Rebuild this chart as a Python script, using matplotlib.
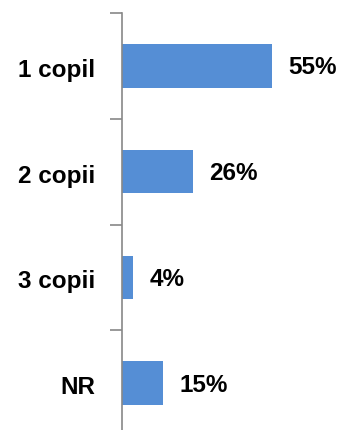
import matplotlib.pyplot as plt
from matplotlib.ticker import FixedLocator, NullLocator

categories = ['1 copil', '2 copii', '3 copii', 'NR']
values = [55, 26, 4, 15]

bar_color = '#558ED5'
plt.rcParams['font.family'] = ['Liberation Sans', 'DejaVu Sans']

fig = plt.figure(figsize=(3.42, 4.30), dpi=100)
ax = fig.add_axes([122 / 342, -6 / 430, 220 / 342, 423 / 430])

pos = list(range(len(categories)))
ax.barh(pos, values, height=0.41, color=bar_color)
ax.set_ylim(len(categories) - 0.5, -0.5)
ax.set_xlim(0, 80.6)

for p, v in zip(pos, values):
    ax.text(v + 6.0, p + 0.02, f'{v}%', va='center', ha='left',
            fontsize=17.5, fontweight='bold')

ax.set_yticks([p + 0.02 for p in pos])
ax.set_yticklabels(categories, fontsize=17.5, fontweight='bold')
ax.tick_params(axis='y', which='major', length=0, pad=19)
ax.yaxis.set_minor_locator(FixedLocator([-0.5, 0.5, 1.5, 2.5, 3.5]))
ax.tick_params(axis='y', which='minor', length=9, width=1.2, color='#888888')
ax.xaxis.set_major_locator(NullLocator())

for s in ['top', 'right', 'bottom']:
    ax.spines[s].set_visible(False)
ax.spines['left'].set_color('#888888')
ax.spines['left'].set_linewidth(1.2)

fig.savefig('out.png', dpi=100)
